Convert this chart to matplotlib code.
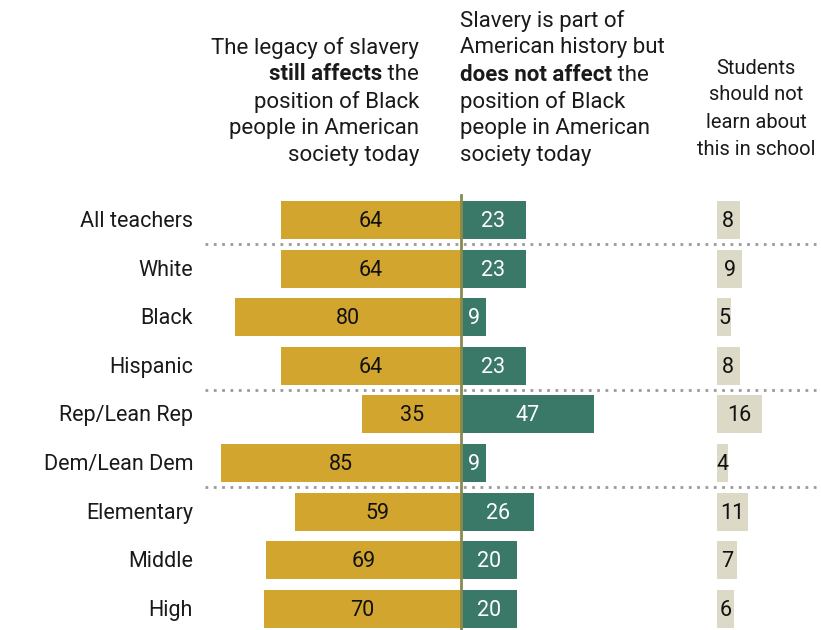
import matplotlib
matplotlib.use('Agg')
import matplotlib.pyplot as plt

plt.rcParams['font.family'] = ['Roboto', 'DejaVu Sans']

# ---- data ----
groups = ['All teachers', 'White', 'Black', 'Hispanic', 'Rep/Lean Rep',
          'Dem/Lean Dem', 'Elementary', 'Middle', 'High']
still_affects = [64, 64, 80, 64, 35, 85, 59, 69, 70]
not_affect = [23, 23, 9, 23, 47, 9, 26, 20, 20]
not_learn = [8, 9, 5, 8, 16, 4, 11, 7, 6]
separators_after = [0, 3, 5]

GOLD = '#D2A52F'
TEAL = '#3A7868'
BEIGE = '#DCD9C7'
OLIVE = '#8B8A4D'

W, H = 821, 630
fig = plt.figure(figsize=(W / 100, H / 100), dpi=100)
ax = fig.add_axes([0, 0, 1, 1])
ax.axis('off')

# pixel mapping: x_px = 461 + 2.82*v ; y_px = 220 + 48.6*i
sx, cx = 2.82, 461
sy, cy = 48.6, 220
ax.set_xlim(-cx / sx, (W - cx) / sx)
ax.set_ylim((H - cy) / sy, -cy / sy)

third_x0 = (717 - cx) / sx
label_x = (193 - cx) / sx
fs = 15.5

rows = range(len(groups))
ax.barh(rows, [-v for v in still_affects], height=0.78, color=GOLD)
ax.barh(rows, not_affect, height=0.78, color=TEAL)
ax.barh(rows, not_learn, left=third_x0, height=0.78, color=BEIGE)

for i in rows:
    yy = i + 0.03
    ax.text(label_x, yy, groups[i], ha='right', va='center', fontsize=fs, color='#1a1a1a')
    ax.text(-still_affects[i] / 2, yy, str(still_affects[i]), ha='center', va='center',
            fontsize=fs, color='#111111')
    ax.text(not_affect[i] / 2, yy, str(not_affect[i]), ha='center', va='center',
            fontsize=fs, color='white')
    ax.text(third_x0 + not_learn[i] / 2, yy, str(not_learn[i]), ha='center', va='center',
            fontsize=fs, color='#111111')

# dotted separators
for s in separators_after:
    ax.plot([(205 - cx) / sx, (816 - cx) / sx], [s + 0.5, s + 0.5], color='#9A9A9A',
            linewidth=2, linestyle=(0, (1, 2)))

# center line
ax.plot([0, 0], [(195 - cy) / sy, (H - cy) / sy], color=OLIVE, linewidth=2, zorder=5)


# ---- headers ----
def fx(x):
    return x / W


def fy(y):
    return 1 - y / H


lh = 27
hs = 16
left_lines = ['The legacy of slavery', None, 'position of Black',
              'people in American', 'society today']
for k, line in enumerate(left_lines):
    y = 48 + k * lh
    if line is None:
        t = fig.text(fx(419), fy(y), ' the', ha='right', va='center', fontsize=hs,
                     color='#1a1a1a')
        ax.annotate('still affects', xy=(0, 0), xycoords=t, ha='right', va='bottom',
                    fontsize=hs, fontweight='bold', color='#1a1a1a')
    else:
        fig.text(fx(419), fy(y), line, ha='right', va='center', fontsize=hs, color='#1a1a1a')

mid_lines = ['Slavery is part of', 'American history but', None, 'position of Black',
             'people in American', 'society today']
for k, line in enumerate(mid_lines):
    y = 21 + k * lh
    if line is None:
        t = fig.text(fx(460), fy(y), 'does not affect', ha='left', va='center',
                     fontsize=hs, fontweight='bold', color='#1a1a1a')
        ax.annotate(' the', xy=(1, 0), xycoords=t, ha='left', va='bottom', fontsize=hs,
                    color='#1a1a1a')
    else:
        fig.text(fx(460), fy(y), line, ha='left', va='center', fontsize=hs, color='#1a1a1a')

right_lines = ['Students', 'should not', 'learn about', 'this in school']
for k, line in enumerate(right_lines):
    fig.text(fx(756), fy(68 + k * lh), line, ha='center', va='center', fontsize=14.5,
             color='#1a1a1a')

fig.savefig('out.png', dpi=100)
